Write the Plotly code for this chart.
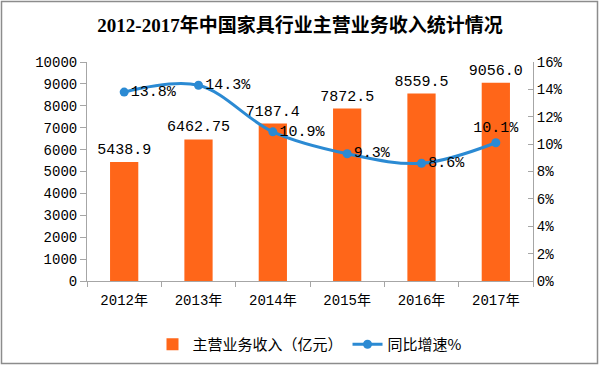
import plotly.graph_objects as go

years = ["2012年", "2013年", "2014年", "2015年", "2016年", "2017年"]
revenue = [5438.9, 6462.75, 7187.4, 7872.5, 8559.5, 9056.0]
revenue_labels = ["5438.9", "6462.75", "7187.4", "7872.5", "8559.5", "9056.0"]
growth = [13.8, 14.3, 10.9, 9.3, 8.6, 10.1]
growth_labels = ["13.8%", "14.3%", "10.9%", "9.3%", "8.6%", "10.1%"]
growth_label_pos = ["middle right", "middle right", "middle right",
                    "middle right", "middle right", "top center"]
left_ticks = list(range(0, 10001, 1000))
left_tick_labels = [str(v) for v in left_ticks]
right_ticks = list(range(0, 17, 2))
right_tick_labels = [f"{v}%" for v in right_ticks]

MONO = "Liberation Mono, Noto Sans CJK SC, sans-serif"
CJK = "Noto Sans CJK SC, sans-serif"
BAR = "#FF6619"
LINE = "#2B8AD3"
AX = "#A6A6A6"

fig = go.Figure()
fig.add_trace(go.Bar(
    x=years, y=revenue, name="主营业务收入（亿元）",
    marker=dict(color=BAR, line=dict(width=0)), width=0.38,
    text=revenue_labels, textposition="outside", cliponaxis=False,
    constraintext="none",
    textfont=dict(family=MONO, size=15, color="#000000"),
))
fig.add_trace(go.Scatter(
    x=years, y=growth, name="同比增速%", yaxis="y2",
    mode="lines+markers+text",
    line=dict(color=LINE, width=3, shape="spline", smoothing=1.0),
    marker=dict(color=LINE, size=9),
    text=growth_labels, textposition=growth_label_pos, cliponaxis=False,
    textfont=dict(family=MONO, size=15, color="#000000"),
))

fig.update_layout(
    width=600, height=368,
    margin=dict(l=87, r=67, t=62, b=87, autoexpand=False),
    paper_bgcolor="white", plot_bgcolor="white",
    title=dict(text="<b>2012-2017年中国家具行业主营业务收入统计情况</b>",
               x=0.5, xanchor="center", y=0.93, yanchor="middle",
               font=dict(family="Liberation Serif, Noto Sans CJK SC, serif", size=19, color="#000000")),
    showlegend=True,
    legend=dict(orientation="h", x=0.5, xanchor="center", y=-0.29, yanchor="middle",
                font=dict(family=CJK, size=15, color="#000000"),
                itemwidth=30, bgcolor="rgba(0,0,0,0)"),
    xaxis=dict(showline=True, linecolor=AX, linewidth=1, ticks="outside",
               ticklen=5, tickcolor=AX, tickson="boundaries", ticklabelstandoff=6,
               automargin=False,
               tickfont=dict(family=MONO, size=14, color="#000000"),
               showgrid=False, fixedrange=True),
    yaxis=dict(range=[0, 10000], tickvals=left_ticks, ticktext=left_tick_labels,
               showline=True, linecolor=AX, automargin=False,
               linewidth=1, ticks="outside", ticklen=6, tickcolor=AX,
               tickfont=dict(family=MONO, size=14, color="#000000"),
               showgrid=False, zeroline=False),
    yaxis2=dict(range=[0, 16], tickvals=right_ticks, ticktext=right_tick_labels,
                overlaying="y", side="right", showline=True, linecolor=AX,
                linewidth=1, ticks="inside", ticklen=5, tickcolor=AX, automargin=False,
                tickfont=dict(family=MONO, size=14, color="#000000"),
                showgrid=False, zeroline=False),
    shapes=[dict(type="rect", xref="paper", yref="paper",
                 x0=-85.5/446, x1=1 + 64.5/446, y0=-82.5/219, y1=1 + 60.5/219,
                 line=dict(color="#8C8C8C", width=1.5), fillcolor="rgba(0,0,0,0)")],
)

fig.write_html("out.html", config={"displayModeBar": False},
               post_script="document.body.style.margin='0';")
